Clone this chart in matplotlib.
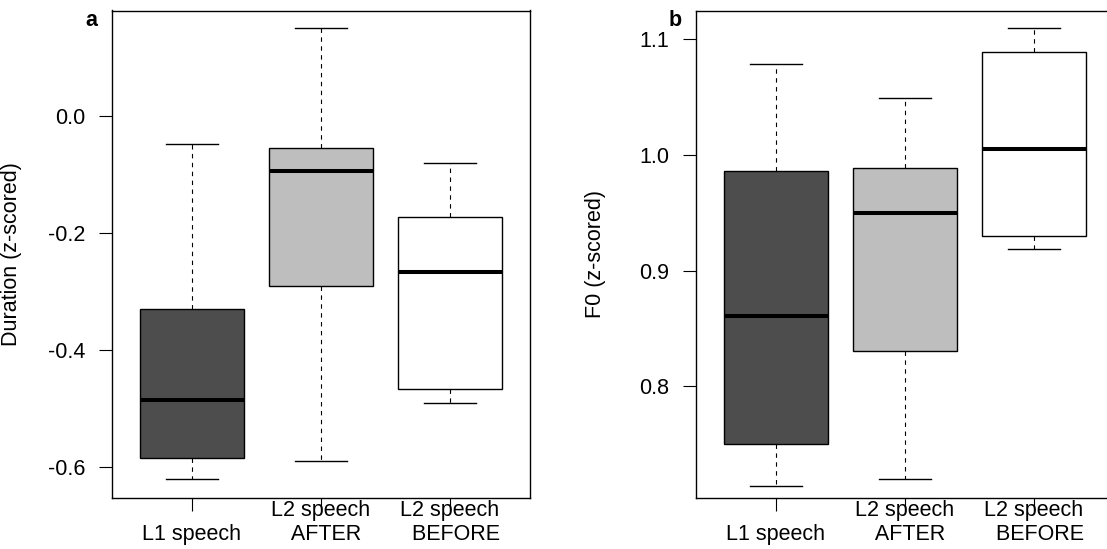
import matplotlib
matplotlib.use('Agg')
import matplotlib.pyplot as plt

plt.rcParams['font.family'] = ['Liberation Sans', 'DejaVu Sans']
plt.rcParams['axes.unicode_minus'] = False

groups = ['\nL1 speech', 'L2 speech\n  AFTER', 'L2 speech\n  BEFORE']
fills = ['#4d4d4d', '#bebebe', '#ffffff']

# duration (z-scored): lower whisker, q1, median, q3, upper whisker
dur_lo = [-0.621, -0.591, -0.491]
dur_q1 = [-0.586, -0.291, -0.467]
dur_med = [-0.486, -0.095, -0.267]
dur_q3 = [-0.331, -0.056, -0.173]
dur_hi = [-0.049, 0.150, -0.081]
dur_ticks = [-0.6, -0.4, -0.2, 0.0]

# F0 (z-scored)
f0_lo = [0.714, 0.720, 0.919]
f0_q1 = [0.750, 0.8305, 0.930]
f0_med = [0.861, 0.950, 1.005]
f0_q3 = [0.986, 0.989, 1.089]
f0_hi = [1.079, 1.049, 1.110]
f0_ticks = [0.8, 0.9, 1.0, 1.1]


def stats(lo, q1, med, q3, hi):
    return [dict(whislo=lo[i], q1=q1[i], med=med[i], q3=q3[i], whishi=hi[i], fliers=[])
            for i in range(len(med))]


fig = plt.figure(figsize=(11.07, 5.49), dpi=100)
ax_a = fig.add_axes([112/1107, 51.5/549, 418/1107, 487/549])
ax_b = fig.add_axes([696/1107, 51.5/549, 418/1107, 487/549])

panels = [
    (ax_a, stats(dur_lo, dur_q1, dur_med, dur_q3, dur_hi), dur_ticks, (-0.653, 0.180), 'Duration (z-scored)', 'a'),
    (ax_b, stats(f0_lo, f0_q1, f0_med, f0_q3, f0_hi), f0_ticks, (0.704, 1.125), 'F0 (z-scored)', 'b'),
]

for ax, st, ticks, ylim, ylab, tag in panels:
    bp = ax.bxp(st, positions=[1, 2, 3], widths=0.8, patch_artist=True, showfliers=False,
                boxprops=dict(edgecolor='black', linewidth=1.0),
                medianprops=dict(color='black', linewidth=2.9, solid_capstyle='butt'),
                whiskerprops=dict(color='black', linewidth=0.8, linestyle=(0, (4, 4))),
                capprops=dict(color='black', linewidth=1.0),
                capwidths=0.4)
    for patch, c in zip(bp['boxes'], fills):
        patch.set_facecolor(c)
    ax.set_xlim(0.38, 3.62)
    ax.set_ylim(*ylim)
    ax.set_yticks(ticks)
    ax.set_yticklabels(['%.1f' % t for t in ticks])
    ax.set_xticks([1, 2, 3])
    ax.set_xticklabels(groups, linespacing=1.15)
    ax.tick_params(axis='both', labelsize=15.5, length=9.5, width=0.8, color='black')
    ax.tick_params(axis='y', pad=10)
    ax.tick_params(axis='x', pad=-7.5)
    for s in ax.spines.values():
        s.set_linewidth(1.0)
    ax.set_ylabel(ylab, fontsize=15.5)
    ax.yaxis.set_label_coords(-90/418, 0.5)
    ax.text(-21/418, 1.0 - 10/487, tag, transform=ax.transAxes, fontsize=15.5,
            fontweight='bold', ha='center', va='center')

fig.savefig('out.png', dpi=100)
